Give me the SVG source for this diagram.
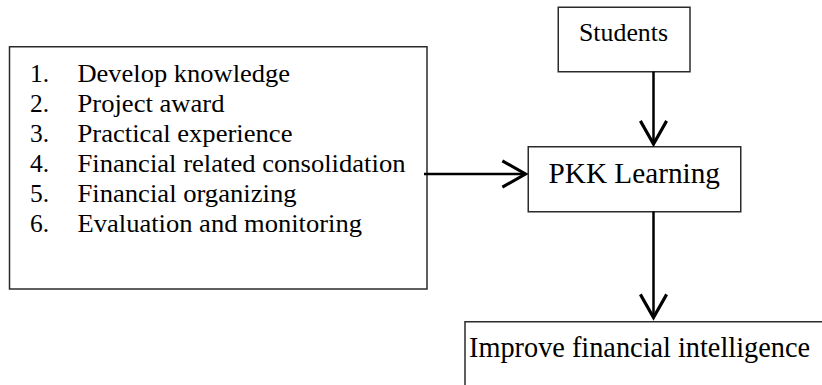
<svg xmlns="http://www.w3.org/2000/svg" width="822" height="385" viewBox="0 0 822 385">
  <style>
    .box { fill: #ffffff; stroke: #2b2b2b; stroke-width: 1.5; }
    .edge { fill: none; stroke: #000000; stroke-width: 2.5; }
    text { font-family: "Liberation Serif", "Times New Roman", serif; fill: #000000; }
    .list { font-size: 25.5px; }
    .big { font-size: 28.5px; }
  </style>
  <defs>
    <marker id="chevron" markerUnits="userSpaceOnUse" markerWidth="30" markerHeight="30" refX="0" refY="0" viewBox="-20 -12 22 24" orient="auto" overflow="visible">
      <path d="M -18.5 -10.5 L 0 0 L -18.5 10.5" fill="none" stroke="#000000" stroke-width="2.5"/>
    </marker>
  </defs>

  <rect width="822" height="385" fill="#ffffff"/>

  <!-- activities list -->
  <g id="activities">
    <rect class="box" x="9.5" y="46.75" width="417.5" height="242.25"/>
    <g class="list">
      <text x="30" y="82">1.</text>
      <text x="77.5" y="82" textLength="212.5" lengthAdjust="spacingAndGlyphs">Develop knowledge</text>
      <text x="30" y="111.9">2.</text>
      <text x="77.5" y="111.9" textLength="147" lengthAdjust="spacingAndGlyphs">Project award</text>
      <text x="30" y="141.8">3.</text>
      <text x="77.5" y="141.8" textLength="215" lengthAdjust="spacingAndGlyphs">Practical experience</text>
      <text x="30" y="171.7">4.</text>
      <text x="77.5" y="171.7" textLength="328" lengthAdjust="spacingAndGlyphs">Financial related consolidation</text>
      <text x="30" y="201.6">5.</text>
      <text x="77.5" y="201.6" textLength="219" lengthAdjust="spacingAndGlyphs">Financial organizing</text>
      <text x="30" y="231.5">6.</text>
      <text x="77.5" y="231.5" textLength="284.5" lengthAdjust="spacingAndGlyphs">Evaluation and monitoring</text>
    </g>
  </g>

  <!-- students -->
  <g id="students">
    <rect class="box" x="558.25" y="7.25" width="131.75" height="64.5"/>
    <text x="579" y="41" class="list" textLength="89" lengthAdjust="spacingAndGlyphs">Students</text>
  </g>

  <!-- PKK learning -->
  <g id="pkk">
    <rect class="box" x="528.25" y="146.75" width="212.5" height="65"/>
    <text x="548.5" y="183" class="big" textLength="171.5" lengthAdjust="spacingAndGlyphs">PKK Learning</text>
  </g>

  <!-- outcome (box runs past the right edge) -->
  <g id="outcome">
    <path class="box" d="M 465 386 L 465 321.75 L 830 321.75"/>
    <text x="469" y="357" class="big" textLength="341" lengthAdjust="spacingAndGlyphs">Improve financial intelligence</text>
  </g>

  <!-- connectors -->
  <g id="connectors">
    <line class="edge" x1="653.5" y1="71.75" x2="653.5" y2="144" marker-end="url(#chevron)"/>
    <line class="edge" x1="424" y1="174" x2="525.5" y2="174" marker-end="url(#chevron)"/>
    <line class="edge" x1="653.5" y1="211.75" x2="653.5" y2="317.5" marker-end="url(#chevron)"/>
  </g>
</svg>
